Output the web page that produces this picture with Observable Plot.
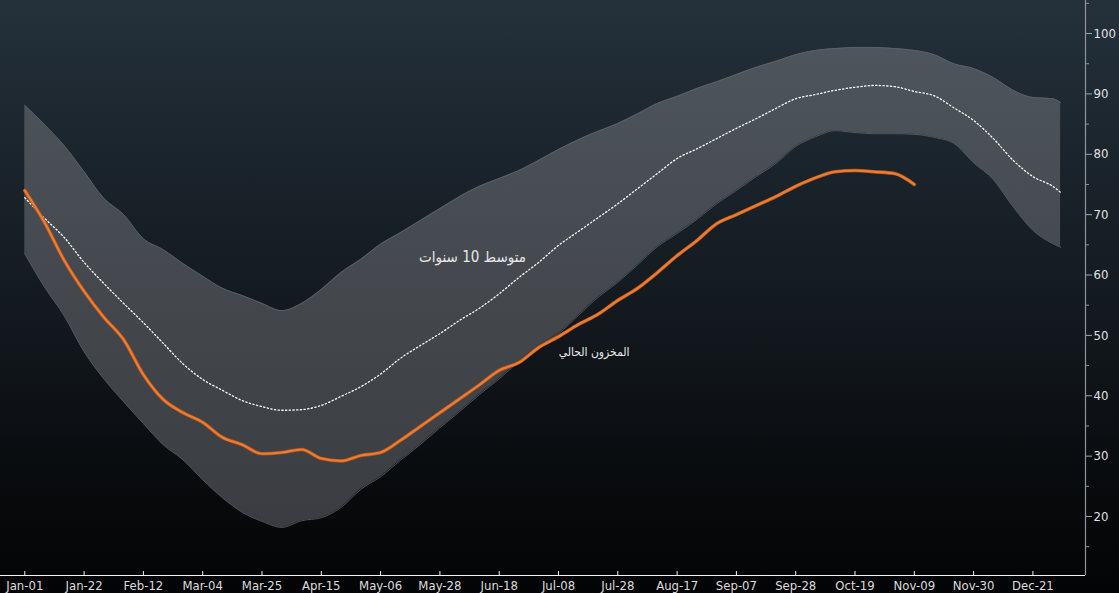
<!DOCTYPE html>
<html>
<head>
<meta charset="utf-8">
<script src="https://cdn.jsdelivr.net/npm/d3@7"></script>
<script src="https://cdn.jsdelivr.net/npm/@observablehq/plot@0.6"></script>
<style>
  html, body { margin: 0; padding: 0; background: #040506; }
  #chart svg { display: block; }
</style>
</head>
<body>
<div id="chart"></div>
<script>
// X tick labels (one every 3 weeks)
const xLabels = ["Jan-01","Jan-22","Feb-12","Mar-04","Mar-25","Apr-15","May-06","May-28","Jun-18",
  "Jul-08","Jul-28","Aug-17","Sep-07","Sep-28","Oct-19","Nov-09","Nov-30","Dec-21"];
const yTicks = [20, 30, 40, 50, 60, 70, 80, 90, 100];
const yMinorTicks = [15, 25, 35, 45, 55, 65, 75, 85, 95, 105];

// Week index of each band / average value (last value = end of year)
const bandWeeks = d3.range(53).concat([52.4]);

// 10-year maximum
const bandHigh = [88.1,84.9,81.4,77.1,72.7,70.0,66.0,64.2,61.9,59.8,57.8,56.6,55.3,54.1,55.3,57.6,60.4,62.6,65.1,67.0,
  69.0,71.0,73.0,74.7,76.0,77.3,79.0,80.8,82.4,83.8,85.1,86.7,88.4,89.6,90.9,92.0,93.2,94.4,95.4,96.5,
  97.2,97.5,97.7,97.7,97.5,97.2,96.5,95.0,94.2,92.7,90.6,89.4,89.2,88.6];
// 10-year minimum
const bandLow = [63.5,58.0,53.2,47.3,42.8,39.0,35.4,31.9,29.4,26.1,23.1,20.7,19.2,18.2,19.3,19.8,21.5,24.5,26.6,29.3,
  31.9,34.7,37.4,40.2,42.8,45.7,48.3,50.3,53.3,56.3,58.8,61.7,64.7,66.9,69.2,71.8,74.0,76.3,78.5,81.3,
  82.9,83.9,83.6,83.4,83.4,83.3,82.8,81.8,78.6,75.8,71.3,67.4,65.2,64.6];
// 10-year average
const avg10 = [72.8,69.4,66.2,62.1,58.6,55.3,52.1,48.7,45.3,42.7,40.9,39.2,38.2,37.6,37.7,38.4,39.9,41.5,43.6,46.2,
  48.3,50.3,52.5,54.5,56.9,59.6,62.1,64.9,67.2,69.5,71.8,74.3,76.8,79.3,80.9,82.6,84.3,85.9,87.6,89.2,
  89.9,90.6,91.1,91.4,91.2,90.4,89.7,87.7,85.6,82.6,79.0,76.3,74.7,73.7];
// Current storage
const current = [74.0,68.7,62.4,57.3,53.0,49.3,43.5,39.4,37.2,35.6,33.1,31.9,30.4,30.6,31.1,29.6,29.2,30.1,30.6,32.6,
  34.9,37.2,39.5,41.8,44.2,45.5,48.0,49.8,51.8,53.5,55.8,57.8,60.4,63.2,65.7,68.5,70.0,71.5,73.0,74.7,
  76.1,77.1,77.3,77.1,76.8,75.0];

const annotations = [
  {text: "متوسط 10 سنوات", w: 22.65, v: 62.9, size: 15},
  {text: "المخزون الحالي", w: 28.8, v: 47.2, size: 12}
];

const band = bandWeeks.map((w, i) => ({w, hi: bandHigh[i], lo: bandLow[i], avg: avg10[i]}));
const cur = current.map((v, i) => ({w: i, v}));

const xMin = -1.229, xMax = 53.66;
const yMin = 10.23, yMax = 105.47;
const xTicks = xLabels.map((_, i) => i * 3);
const curve = "monotone-x";

const plot = Plot.plot({
  width: 1119,
  height: 593,
  marginLeft: 0,
  marginRight: 34,
  marginTop: 0,
  marginBottom: 18,
  x: {type: "linear", domain: [xMin, xMax], axis: null, label: null},
  y: {type: "linear", domain: [yMin, yMax], axis: null, label: null},
  style: {
    background: "linear-gradient(to bottom, #24313b 0%, #1b252d 25%, #12181d 55%, #07090b 85%, #030405 100%)",
    fontFamily: "'DejaVu Sans', sans-serif",
    fontStretch: "condensed",
    overflow: "visible"
  },
  marks: [
    Plot.areaY(band, {x: "w", y1: "lo", y2: "hi", fill: "url(#bandGrad)", curve}),
    Plot.lineY(band, {x: "w", y: "hi", stroke: "#596066", strokeWidth: 1, curve}),
    Plot.lineY(band, {x: "w", y: "lo", stroke: "#50565c", strokeWidth: 1, curve}),
    Plot.lineY(band, {x: "w", y: "avg", stroke: "#ffffff", strokeWidth: 1.3, strokeDasharray: "1.3 2.4", curve}),
    Plot.lineY(cur, {x: "w", y: "v", stroke: "#b4541a", strokeWidth: 3.6, strokeLinejoin: "round", curve}),
    Plot.lineY(cur, {x: "w", y: "v", stroke: "#ec7d33", strokeWidth: 2.2, strokeLinejoin: "round", strokeLinecap: "round", curve}),
    Plot.text(annotations, {x: "w", y: "v", text: "text", fontSize: "size", fill: "#e8e8e8",
      fontFamily: "'DejaVu Sans', sans-serif", fontStretch: "normal"}),
    Plot.ruleX([xMax], {stroke: "#8e9499", strokeWidth: 1.2}),
    Plot.ruleY([yMin], {stroke: "#f2f2f2", strokeWidth: 1.2}),
    Plot.axisY({anchor: "right", label: null, ticks: yMinorTicks, tickSize: 3, tickFormat: () => "", stroke: "#8e9499"}),
    Plot.axisY({anchor: "right", label: null, ticks: yTicks, tickSize: 6, tickPadding: 2, fontSize: 13,
      stroke: "#a0a5aa", fill: "#e2e2e2", tickFormat: d => String(d)}),
    Plot.axisX({anchor: "bottom", label: null, ticks: xTicks, tickSize: -4, tickFormat: () => "", stroke: "#f2f2f2"}),
    Plot.axisX({anchor: "bottom", label: null, ticks: xTicks, tickSize: 0, tickPadding: 5, fontSize: 13,
      fill: "#dcdcdc", tickFormat: i => xLabels[Math.round(i / 3)]})
  ]
});

const svg = d3.select(plot);
const defs = svg.insert("defs", ":first-child");
const grad = defs.append("linearGradient")
  .attr("id", "bandGrad")
  .attr("gradientUnits", "userSpaceOnUse")
  .attr("x1", 0).attr("y1", 40).attr("x2", 0).attr("y2", 530);
grad.append("stop").attr("offset", "0%").attr("stop-color", "#4e555c");
grad.append("stop").attr("offset", "100%").attr("stop-color", "#3a3c40");

document.getElementById("chart").appendChild(plot);
</script>
</body>
</html>
